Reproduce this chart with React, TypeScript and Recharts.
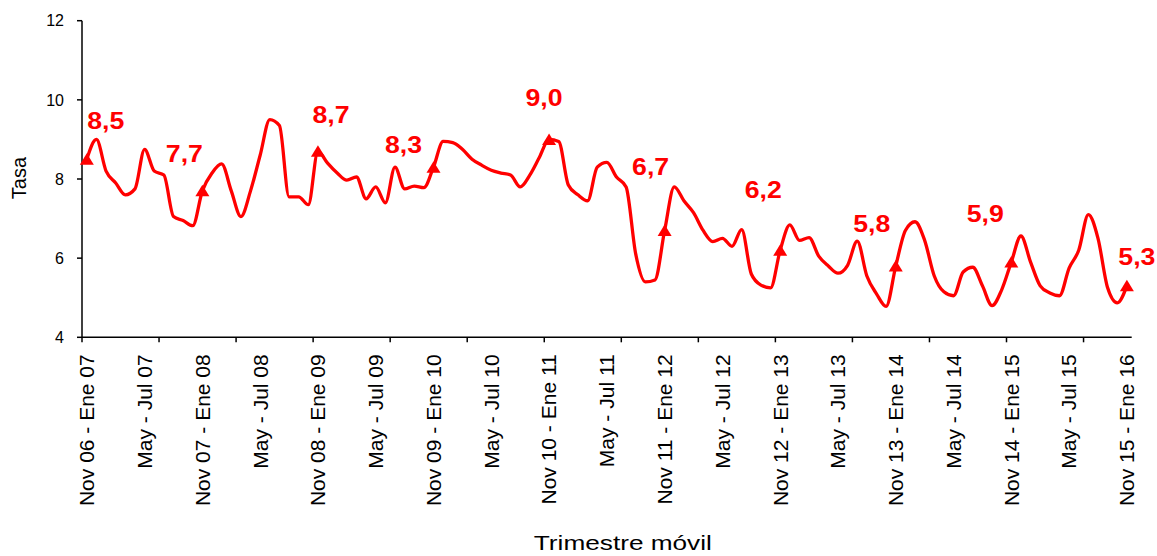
/** TasaChart — tasa por trimestre móvil, Nov 06 - Ene 07 a Nov 15 - Ene 16 */
import { LineChart, Line, XAxis, YAxis } from 'recharts'

// one value per trimestre móvil (monthly step), index 0 = Nov 06 - Ene 07
const tasa = [
  8.5, 9.0, 8.2, 7.9, 7.6, 7.75, 8.75, 8.2, 8.1, 7.05, 6.95, 6.82,
  7.7, 8.15, 8.38, 7.7, 7.05, 7.7, 8.6, 9.5, 9.35, 7.55, 7.55, 7.35,
  8.7, 8.4, 8.15, 7.97, 8.05, 7.5, 7.8, 7.4, 8.3, 7.75, 7.82, 7.78,
  8.3, 8.95, 8.92, 8.75, 8.5, 8.35, 8.22, 8.15, 8.1, 7.8, 8.1, 8.55,
  9.0, 8.95, 7.85, 7.6, 7.45, 8.3, 8.42, 8.05, 7.8, 6.1, 5.4, 5.45,
  6.7, 7.8, 7.45, 7.15, 6.7, 6.42, 6.5, 6.3, 6.72, 5.6, 5.32, 5.25,
  6.2, 6.84, 6.45, 6.52, 6.05, 5.8, 5.62, 5.82, 6.43, 5.55, 5.1, 4.78,
  5.8, 6.7, 6.92, 6.45, 5.55, 5.15, 5.05, 5.65, 5.77, 5.3, 4.8, 5.2,
  5.9, 6.56, 5.9, 5.3, 5.12, 5.05, 5.75, 6.2, 7.1, 6.5, 5.25, 4.87,
  5.3,
]

// labels every 6 trimestres
const tickLabels = [
  'Nov 06 - Ene 07', 'May - Jul 07', 'Nov 07 - Ene 08', 'May - Jul 08',
  'Nov 08 - Ene 09', 'May - Jul 09', 'Nov 09 - Ene 10', 'May - Jul 10',
  'Nov 10 - Ene 11', 'May - Jul 11', 'Nov 11 - Ene 12', 'May - Jul 12',
  'Nov 12 - Ene 13', 'May - Jul 13', 'Nov 13 - Ene 14', 'May - Jul 14',
  'Nov 14 - Ene 15', 'May - Jul 15', 'Nov 15 - Ene 16',
]

// highlighted Nov-Ene trimestres (triangle + value label)
const hitoIdx = [0, 12, 24, 36, 48, 60, 72, 84, 96, 108]

// label placement relative to the point: [dx to text centre, dy to baseline]
const labelOffsets: [number, number][] = [
  [19, -30], [-18, -29], [13, -28], [-30, -14], [-5, -33],
  [-14, -55], [-17, -52], [-24, -34], [-26, -40], [10, -21],
]

const RED = '#ff0000'
const FONT = '"Liberation Sans", Arial, sans-serif'

const rows = tasa.map((v, i) => ({
  i,
  tasa: v,
  hito: hitoIdx.includes(i) ? v : null,
}))

// boundaries of the category slots, tick mark every 8 slots
const tickMarks = Array.from({ length: 14 }, (_, k) => k * 8 - 0.5)
const labelTicks = tickLabels.map((_, k) => k * 6)
const xTicks = [...tickMarks, ...labelTicks].sort((a, b) => a - b)

// eslint-disable-next-line @typescript-eslint/no-explicit-any
function XTick({ x, y, payload }: any) {
  const v = payload.value as number
  if (!Number.isInteger(v)) {
    return <line x1={x} y1={y} x2={x} y2={y + 5} stroke="#000" strokeWidth={1.5} />
  }
  const ty = y + 17
  return (
    <text
      x={x}
      y={ty}
      dy="0.35em"
      transform={`rotate(-90, ${x}, ${ty})`}
      textAnchor="end"
      fontFamily={FONT}
      fontSize={21}
      fill="#000"
    >
      {tickLabels[v / 6]}
    </text>
  )
}

// eslint-disable-next-line @typescript-eslint/no-explicit-any
function HitoDot({ cx, cy, payload }: any) {
  if (cx == null || cy == null || payload?.hito == null) return <g />
  const k = hitoIdx.indexOf(payload.i)
  const [dx, dy] = labelOffsets[k] ?? [0, -30]
  const text = (payload.hito as number).toFixed(1).replace('.', ',')
  return (
    <g>
      <path d={`M${cx},${cy - 6} L${cx + 7},${cy + 5.5} L${cx - 7},${cy + 5.5} Z`} fill={RED} />
      <text
        transform={`translate(${cx + dx}, ${cy + dy}) scale(1.16, 1)`}
        textAnchor="middle"
        fontFamily={FONT}
        fontWeight={700}
        fontSize={23}
        fill={RED}
      >
        {text}
      </text>
    </g>
  )
}

// eslint-disable-next-line @typescript-eslint/no-explicit-any
function YTitle({ viewBox }: any) {
  const cy = viewBox.y + viewBox.height / 2 - 1
  return (
    <text x={26} y={cy} transform={`rotate(-90, 26, ${cy})`} textAnchor="middle"
      fontFamily={FONT} fontSize={20} fill="#000">
      Tasa
    </text>
  )
}

// eslint-disable-next-line @typescript-eslint/no-explicit-any
function XTitle({ viewBox }: any) {
  const cx = viewBox.x + viewBox.width / 2 + 16
  return (
    <text x={cx} y={550} textAnchor="middle" fontFamily={FONT} fontSize={20} fill="#000"
      textLength={178} lengthAdjust="spacingAndGlyphs">
      Trimestre móvil
    </text>
  )
}

export default function App() {
  return (
    <div style={{ position: 'absolute', left: 0, top: 0, width: 1157, height: 556, background: '#fff' }}>
      <LineChart width={1157} height={556} data={rows} margin={{ top: 20.7, right: 25.3, bottom: 0, left: 0 }}>
        <XAxis
          type="number"
          dataKey="i"
          domain={[-0.5, 108.5]}
          ticks={xTicks}
          interval={0}
          tick={<XTick />}
          tickLine={false}
          tickSize={0}
          tickMargin={0}
          axisLine={{ stroke: '#000', strokeWidth: 1.5 }}
          height={218.7}
          label={XTitle}
        />
        <YAxis
          type="number"
          domain={[4, 12]}
          ticks={[4, 6, 8, 10, 12]}
          interval={0}
          width={82}
          tickSize={5}
          tickMargin={13}
          tickLine={{ stroke: '#000', strokeWidth: 1.5 }}
          axisLine={{ stroke: '#000', strokeWidth: 1.5 }}
          tick={{ fill: '#000', fontSize: 16, fontFamily: FONT }}
          label={YTitle}
        />
        <Line
          type="monotone"
          dataKey="tasa"
          stroke={RED}
          strokeWidth={3.3}
          dot={false}
          activeDot={false}
          isAnimationActive={false}
        />
        <Line
          dataKey="hito"
          stroke="none"
          dot={HitoDot}
          activeDot={false}
          connectNulls={false}
          isAnimationActive={false}
        />
      </LineChart>
    </div>
  )
}
